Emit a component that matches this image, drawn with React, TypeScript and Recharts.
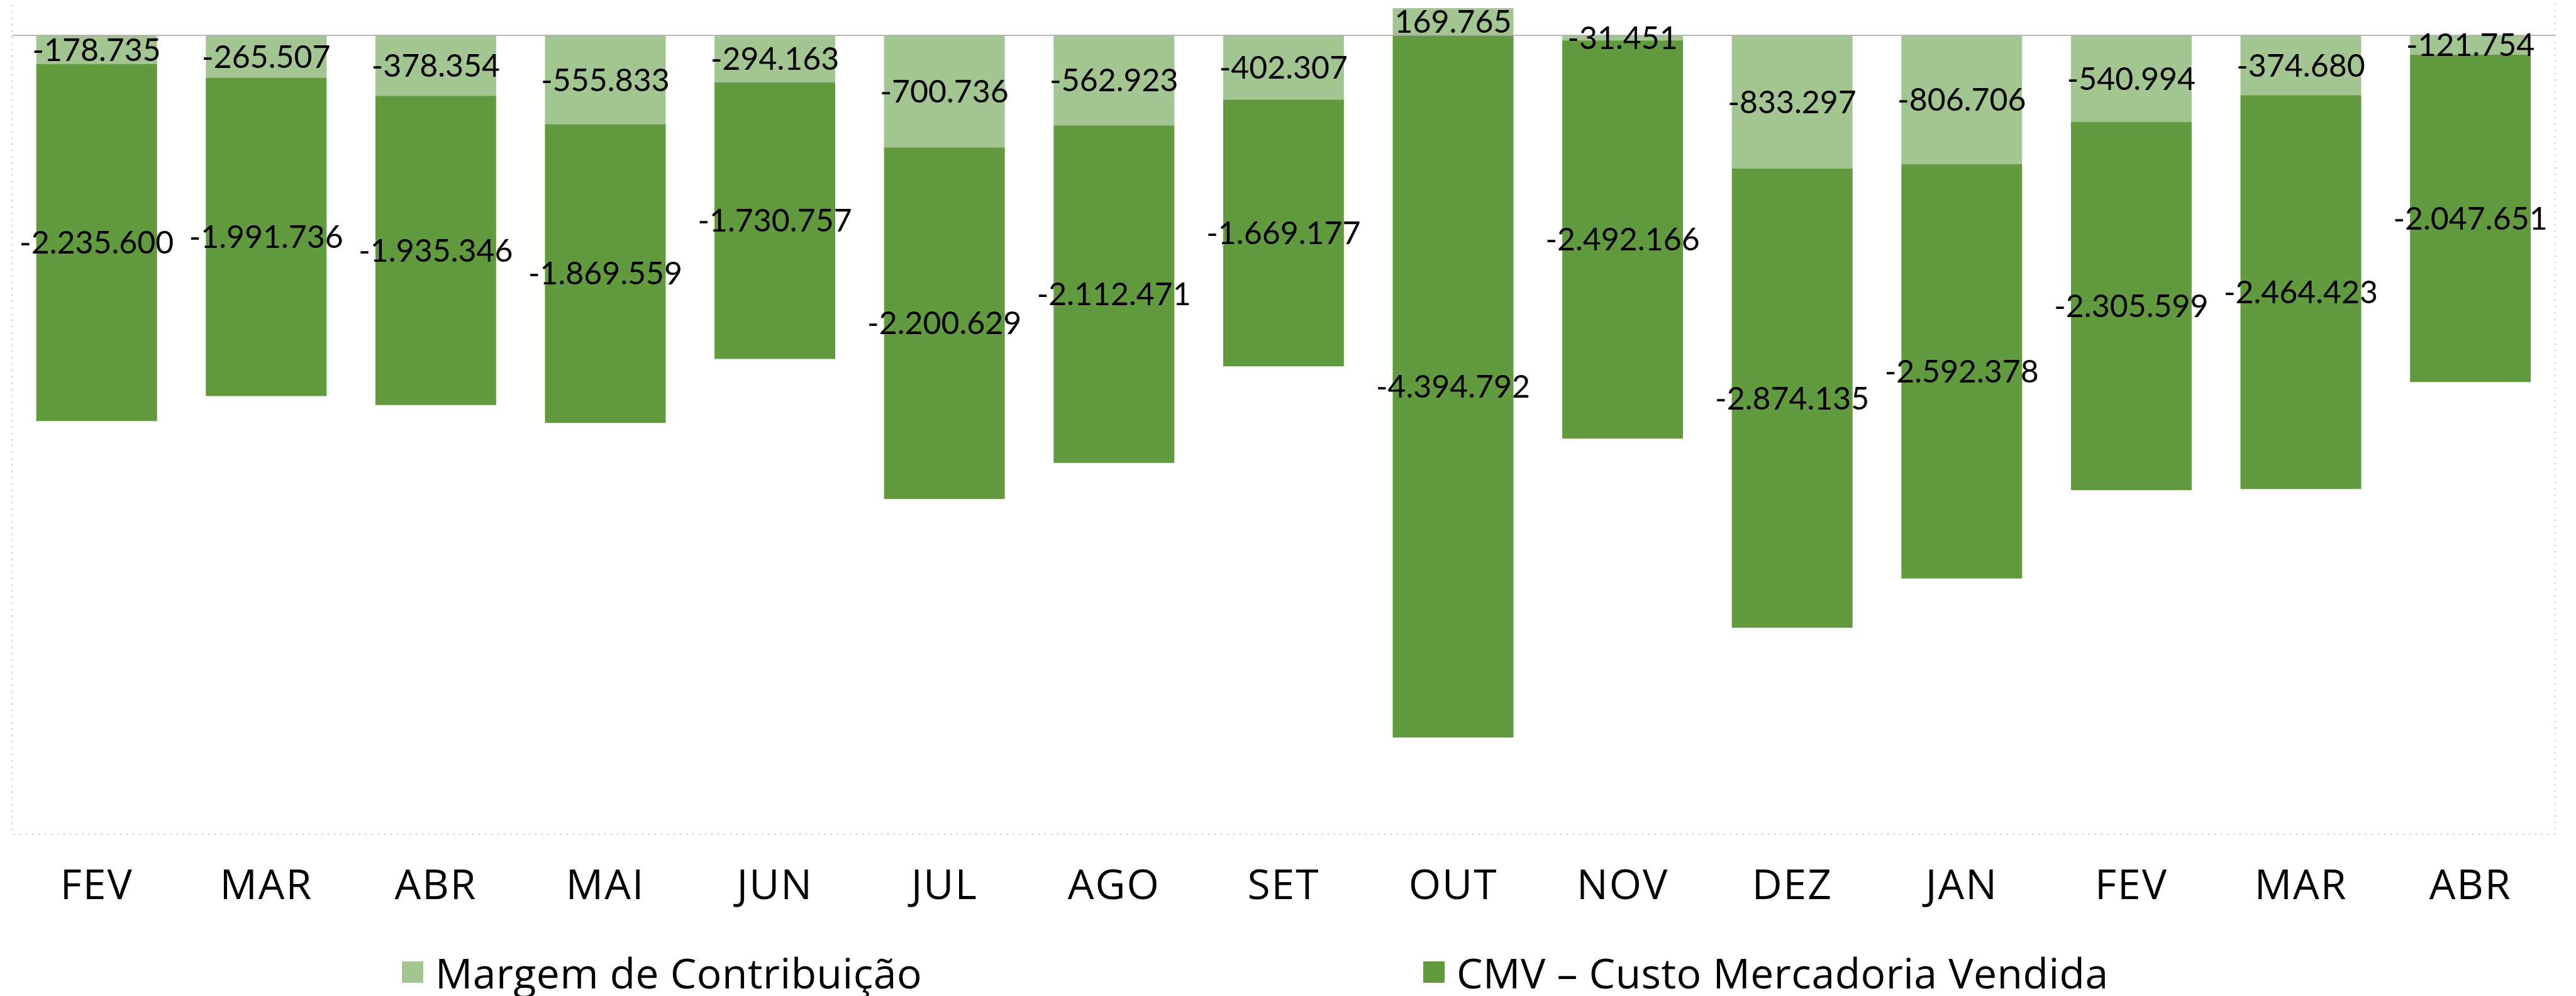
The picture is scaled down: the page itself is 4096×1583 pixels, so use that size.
import React from "react"
import {
  BarChart, Bar, XAxis, YAxis, Legend, LabelList, ReferenceLine, ReferenceArea,
} from "recharts"

const months = ["FEV", "MAR", "ABR", "MAI", "JUN", "JUL", "AGO", "SET", "OUT", "NOV", "DEZ", "JAN", "FEV", "MAR", "ABR"]

const margem = [
  -178735, -265507, -378354, -555833, -294163, -700736, -562923, -402307,
  169765, -31451, -833297, -806706, -540994, -374680, -121754,
]

const cmv = [
  -2235600, -1991736, -1935346, -1869559, -1730757, -2200629, -2112471, -1669177,
  -4394792, -2492166, -2874135, -2592378, -2305599, -2464423, -2047651,
]

const LIGHT = "#A3C592"
const DARK = "#629B3F"

const chartData = months.map((m, i) => ({
  month: m,
  margem: margem[i],
  cmv: cmv[i],
}))

// formato brasileiro: ponto como separador de milhar
const fmt = (v: any) => {
  const n = Number(v)
  const s = Math.abs(n).toString().replace(/\B(?=(\d{3})+(?!\d))/g, ".")
  return (n < 0 ? "-" : "") + s
}

const labelStyle = { fill: "#000", fontSize: 50, fontFamily: "Lato" }

function LegendBox() {
  const items = [
    { name: "Margem de Contribuição", color: LIGHT },
    { name: "CMV – Custo Mercadoria Vendida", color: DARK },
  ]
  return (
    <div style={{ height: 77, display: "flex", alignItems: "center", paddingLeft: 639 }}>
      {items.map((it) => (
        <div key={it.name} style={{ width: 1624, display: "flex", alignItems: "center" }}>
          <span style={{ width: 34, height: 34, background: it.color, marginRight: 19, display: "inline-block" }} />
          <span style={{ fontFamily: "Open Sans", fontSize: 66, lineHeight: 1, color: "#000", letterSpacing: 0.5 }}>{it.name}</span>
        </div>
      ))}
    </div>
  )
}

export default function App() {
  return (
    <div style={{ position: "absolute", left: 0, top: 0 }}>
      <BarChart
        width={4096}
        height={1583}
        data={chartData}
        stackOffset="sign"
        barCategoryGap="14.35%"
        margin={{ top: -20, right: 33, left: 19, bottom: 0 }}
      >
        <XAxis
          dataKey="month"
          axisLine={false}
          tickLine={false}
          tickSize={0}
          tickMargin={56}
          height={180}
          interval={0}
          tick={{ fill: "#000", fontSize: 66, fontFamily: "Open Sans", letterSpacing: 2 }}
        />
        <YAxis hide domain={[-5000000, 300000]} allowDataOverflow />
        <ReferenceArea
          y1={-5000000}
          y2={300000}
          fill="none"
          stroke="#C4C4C4"
          strokeWidth={2}
          strokeDasharray="2 8"
        />
        <Bar dataKey="margem" name="Margem de Contribuição" stackId="a" fill={LIGHT} isAnimationActive={false}>
          <LabelList dataKey="margem" position="center" formatter={fmt} style={labelStyle} />
        </Bar>
        <Bar dataKey="cmv" name="CMV – Custo Mercadoria Vendida" stackId="a" fill={DARK} isAnimationActive={false}>
          <LabelList dataKey="cmv" position="center" formatter={fmt} style={labelStyle} />
        </Bar>
        <ReferenceLine y={0} stroke="#A6A6A6" strokeWidth={1.5} />
        <Legend
          verticalAlign="bottom"
          content={() => <LegendBox />}
          wrapperStyle={{ left: 0, width: 4096 }}
        />
      </BarChart>
    </div>
  )
}
